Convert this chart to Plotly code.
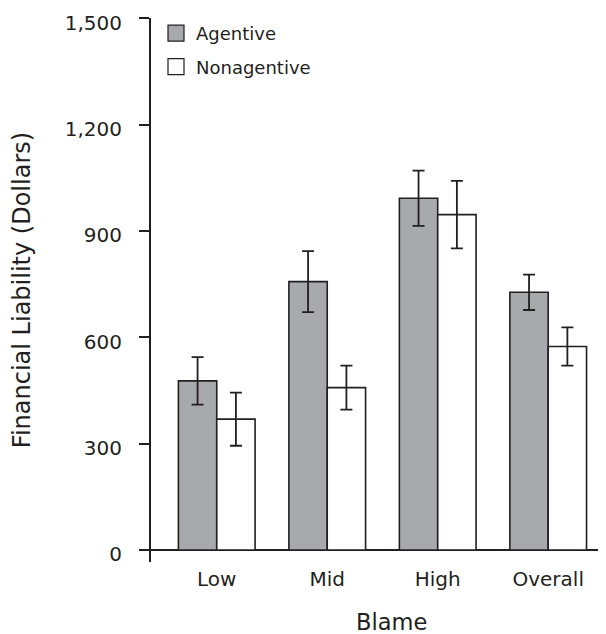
import plotly.graph_objects as go

categories = ["Low", "Mid", "High", "Overall"]
agentive = [477, 757, 992, 727]
agentive_err = [67, 86, 78, 50]
nonagentive = [369, 458, 946, 574]
nonagentive_err = [75, 62, 95, 54]
y_ticks = [0, 300, 600, 900, 1200, 1500]
y_tick_text = ["0", "300", "600", "900", "1,200", "1,500"]

INK = "#231f20"
GRAY = "rgb(167,169,172)"
FONT = "DejaVu Sans"

fig = go.Figure()
fig.add_trace(go.Bar(
    x=categories, y=agentive, name="Agentive", showlegend=False,
    marker=dict(color=GRAY, line=dict(color=INK, width=1.6)),
    error_y=dict(type="data", array=agentive_err, color=INK, thickness=1.8, width=6),
))
fig.add_trace(go.Bar(
    x=categories, y=nonagentive, name="Nonagentive", showlegend=False,
    marker=dict(color="white", line=dict(color=INK, width=1.6)),
    error_y=dict(type="data", array=nonagentive_err, color=INK, thickness=1.8, width=6),
))
# legend entries (on the label axis)
fig.add_trace(go.Scatter(x=[None], y=[None], mode="markers", name="Agentive", legendgroup="a", yaxis="y2",
                         marker=dict(symbol="square", size=20, color=GRAY, line=dict(color=INK, width=1.2))))
fig.add_trace(go.Scatter(x=[None], y=[None], mode="markers", name="Nonagentive", legendgroup="b", yaxis="y2",
                         marker=dict(symbol="square", size=20, color="white", line=dict(color=INK, width=1.2))))

OFF = 8  # page body margin
W, H = 606 - OFF, 634 - OFF
L, R, T, B = 151 - OFF, 0, 18 - OFF, 72
pw = W - L - R
ph = H - T - B

Y0, Y1 = -33.9, 1500.6
label_drop = 4.5 * (Y1 - Y0) / ph  # tick labels sit slightly below their ticks

fig.update_layout(
    width=W, height=H,
    margin=dict(l=L, r=R, t=T, b=B, autoexpand=False),
    paper_bgcolor="white", plot_bgcolor="white",
    font=dict(family=FONT, color=INK, size=20),
    barmode="group", bargap=0.306, bargroupgap=0,
    showlegend=True,
    legend=dict(x=(156 - 151) / pw, y=1.0 + 3 / ph, xanchor="left", yanchor="top",
                font=dict(size=18, family=FONT, color=INK), bgcolor="rgba(0,0,0,0)",
                itemsizing="trace", tracegroupgap=7, traceorder="grouped"),
    xaxis=dict(type="category", range=[-0.595, 3.523], showline=False, showgrid=False,
               zeroline=False, ticks="", tickfont=dict(size=20), ticklabelstandoff=3),
    yaxis=dict(range=[Y0, Y1], showline=True, linecolor=INK, linewidth=1.5,
               ticks="outside", ticklen=10, tickwidth=1.5, tickcolor=INK,
               tickmode="array", tickvals=y_ticks, showticklabels=False,
               showgrid=False, zeroline=True, zerolinecolor=INK, zerolinewidth=1.5),
    yaxis2=dict(overlaying="y", side="left", anchor="x",
                range=[Y0 + label_drop, Y1 + label_drop], showline=False, ticks="",
                tickmode="array", tickvals=y_ticks, ticktext=y_tick_text, tickfont=dict(size=20),
                ticklabelstandoff=28, showgrid=False, zeroline=False,
                title=dict(text="Financial Liability (Dollars)", font=dict(size=24), standoff=27)),
    annotations=[dict(text="Blame", xref="paper", yref="paper", x=(391 - 151) / pw,
                      y=-(622 - 562) / ph, height=22, valign="middle",
                      xanchor="center", yanchor="middle", showarrow=False, font=dict(size=22.5))],
)

fig.write_html("out.html")
